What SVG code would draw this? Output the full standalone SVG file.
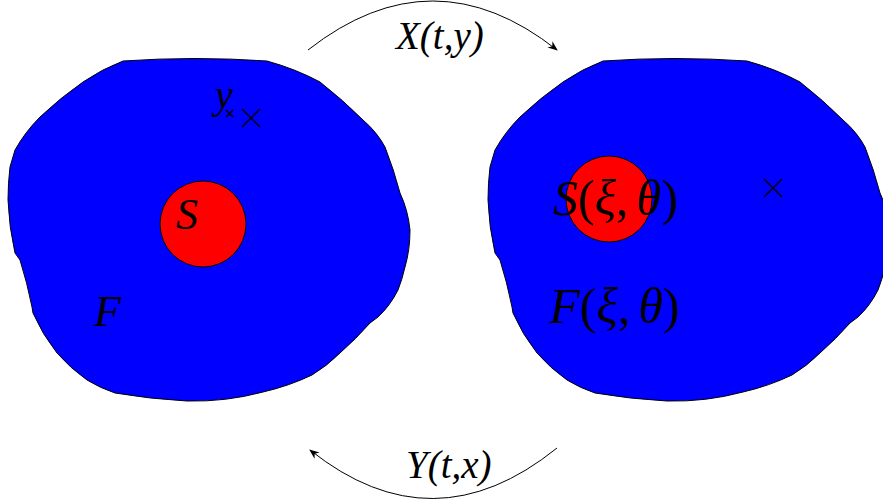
<svg xmlns="http://www.w3.org/2000/svg" width="883" height="504" viewBox="0 0 883 504">
<style>
.blob{fill:#0000ff;stroke:#000;stroke-width:1}
.disk{fill:#ff0000;stroke:#000;stroke-width:1}
.arc{fill:none;stroke:#000;stroke-width:1}
.lbl{font-family:"Liberation Serif","DejaVu Serif",serif;font-style:italic;fill:#000}
.math{font-family:"Liberation Serif","DejaVu Serif",serif;fill:#000}
.cross{stroke:#000;stroke-width:1.5}
</style>
<defs>
<path id="shape" d="M123,61 Q195,56 267,61 Q296,69 320,82 Q343,100 363,120 Q377,132 385,147 Q394,170 400,193 Q408,210 410,230 Q410,250 405,267 Q402,280 398,290 Q390,306 378,317 L370,323 Q356,339 340,353 Q327,366 312,375 Q289,386 263,392 Q226,402 187,401 Q150,399 115,393 Q100,388 87,380 Q70,368 57,353 Q42,334 33,313 L32,307 Q27,282 20,260 L15,253 Q9,227 8,200 Q8,183 10,167 L15,150 Q25,132 40,117 Q60,98 83,82 Q102,69 123,61 Z"/>
<marker id="ah" markerWidth="10" markerHeight="8" refX="9" refY="4" orient="auto" markerUnits="userSpaceOnUse">
<path d="M0,0 L10,4 L0,8 L3,4 Z" fill="#000"/>
</marker>
</defs>
<g id="left">
<use href="#shape" class="blob"/>
<circle class="disk" cx="203" cy="224" r="43"/>
<text class="math" x="176" y="229" font-size="44" font-style="italic">S</text>
<text class="math" x="94" y="326" font-size="44" font-style="italic">F</text>
<text class="lbl" x="215" y="108" font-size="40">y</text>
<path class="cross" d="M226,110 L233,117 M233,110 L226,117" stroke-width="1"/>
<path class="cross" d="M242,109 L260,127 M260,109 L242,127"/>
</g>
<g id="right">
<use href="#shape" class="blob" transform="translate(480,0)"/>
<circle class="disk" cx="609" cy="199" r="43"/>
<text class="math" x="553" y="215" font-size="50"><tspan font-style="italic">S</tspan>(<tspan font-style="italic">ξ</tspan>,<tspan font-style="italic" dx="8">θ</tspan>)</text>
<text class="math" x="549" y="323" font-size="50"><tspan font-style="italic">F</tspan>(<tspan font-style="italic">ξ</tspan>,<tspan font-style="italic" dx="8">θ</tspan>)</text>
<path class="cross" d="M764,179 L782,197 M782,179 L764,197"/>
</g>
<g id="connectors">
<path class="arc" d="M308,50 Q433,-48 557,50" marker-end="url(#ah)"/>
<path class="arc" d="M557,448 Q433,548 310,450" marker-end="url(#ah)"/>
<text class="lbl" x="396" y="49" font-size="39">X(t,y)</text>
<text class="lbl" x="406" y="478" font-size="39">Y(t,x)</text>
</g>
</svg>
